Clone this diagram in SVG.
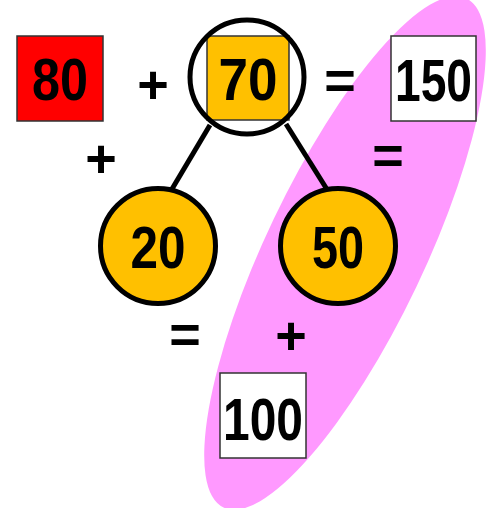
<svg xmlns="http://www.w3.org/2000/svg" width="487" height="508" viewBox="0 0 487 508">
<style>
.num{font-family:"Liberation Sans",Arial,sans-serif;font-weight:bold;font-size:60px;fill:#000;text-anchor:middle}
.op{font-family:"Liberation Sans",Arial,sans-serif;font-weight:bold;font-size:54px;fill:#000;text-anchor:middle}
.box{stroke:#333;stroke-width:1.5}
.ring{stroke:#000;stroke-width:5}
.conn{stroke:#000;stroke-width:5;fill:none}
</style>
<g id="highlight">
<ellipse cx="345" cy="253" rx="282" ry="79" transform="rotate(-64.5 345 253)" fill="#FF99FF"/>
</g>
<g id="connectors">
<line class="conn" x1="210" y1="125" x2="172" y2="189"/>
<line class="conn" x1="286" y1="124" x2="328" y2="191"/>
</g>
<g id="n80">
<rect class="box" x="17" y="36" width="86" height="85" fill="#FF0000"/>
<text class="num" x="60" y="100" textLength="56" lengthAdjust="spacingAndGlyphs">80</text>
</g>
<g id="op1"><text class="op" x="153" y="103">+</text></g>
<g id="n70">
<rect class="box" x="207" y="36" width="82" height="84" fill="#FFC000"/>
<text class="num" x="248" y="100" textLength="59" lengthAdjust="spacingAndGlyphs">70</text>
<circle class="ring" cx="247" cy="77" r="57" fill="none"/>
</g>
<g id="op2"><text class="op" x="340" y="99">=</text></g>
<g id="n150">
<rect class="box" x="391" y="36" width="85" height="85" fill="#FFFFFF"/>
<text class="num" x="433.5" y="101" textLength="77" lengthAdjust="spacingAndGlyphs">150</text>
</g>
<g id="op3"><text class="op" x="101" y="177">+</text></g>
<g id="op4"><text class="op" x="388" y="174">=</text></g>
<g id="n20">
<circle class="ring" cx="158" cy="246" r="57.5" fill="#FFC000"/>
<text class="num" x="158" y="268" textLength="55" lengthAdjust="spacingAndGlyphs">20</text>
</g>
<g id="n50">
<circle class="ring" cx="338" cy="246" r="57.5" fill="#FFC000"/>
<text class="num" x="338" y="268" textLength="52" lengthAdjust="spacingAndGlyphs">50</text>
</g>
<g id="op5"><text class="op" x="185" y="353">=</text></g>
<g id="op6"><text class="op" x="291" y="354">+</text></g>
<g id="n100">
<rect class="box" x="220" y="373" width="86" height="85" fill="#FFFFFF"/>
<text class="num" x="263" y="440" textLength="80" lengthAdjust="spacingAndGlyphs">100</text>
</g>
</svg>
